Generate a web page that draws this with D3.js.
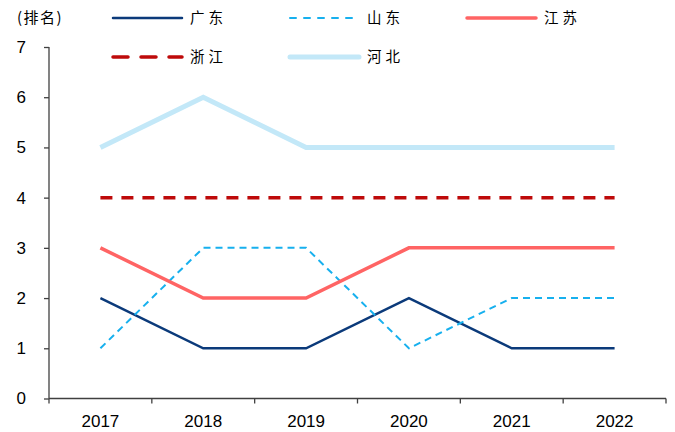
<!DOCTYPE html>
<html>
<head>
<meta charset="utf-8">
<script src="https://cdn.jsdelivr.net/npm/d3@7"></script>
<style>
  html, body { margin: 0; padding: 0; background: #fff; }
  svg { display: block; }
  .tick text { font-family: Arial, "Liberation Sans", sans-serif; }
</style>
</head>
<body>
<svg id="chart" width="675" height="432"></svg>
<script>
// Provincial ranking, 2017–2022
const years = ["2017", "2018", "2019", "2020", "2021", "2022"];
const guangdong = [2, 1, 1, 2, 1, 1];
const shandong  = [1, 3, 3, 1, 2, 2];
const jiangsu   = [3, 2, 2, 3, 3, 3];
const zhejiang  = [4, 4, 4, 4, 4, 4];
const hebei     = [5, 6, 5, 5, 5, 5];
const yTicks = [0, 1, 2, 3, 4, 5, 6, 7];

const series = [
  { name: "广东", values: guangdong, color: "#0B3A7A", width: 2.5, dash: null },
  { name: "山东", values: shandong,  color: "#17B0EE", width: 2,   dash: "7,5" },
  { name: "江苏", values: jiangsu,   color: "#FF6464", width: 3.5, dash: null },
  { name: "浙江", values: zhejiang,  color: "#BE0A0A", width: 3.5, dash: "12,9" },
  { name: "河北", values: hebei,     color: "#C3E8F8", width: 5,   dash: null }
];

const svg = d3.select("#chart");
const plotLeft = 49, plotRight = 666, plotTop = 47, plotBottom = 398.5;

const x = d3.scaleBand().domain(years).range([plotLeft, plotRight]);
const y = d3.scaleLinear().domain([0, 7]).range([plotBottom, plotTop]);

// Y axis
const yAxis = svg.append("g")
  .attr("transform", `translate(${plotLeft},0)`)
  .call(d3.axisLeft(y).tickValues(yTicks).tickSize(5).tickPadding(18).tickFormat(d3.format("d")));
yAxis.select(".domain").attr("stroke", "#404040").attr("stroke-width", 1.3).attr("d", `M0,${plotTop}V${plotBottom}`);
yAxis.selectAll(".tick line").attr("stroke", "#404040").attr("stroke-width", 1.3);
yAxis.selectAll(".tick text").attr("font-size", 17).attr("fill", "#000");

// X axis with ticks at band boundaries
const xAxis = svg.append("g")
  .attr("transform", `translate(0,${plotBottom})`)
  .call(d3.axisBottom(x).tickSize(0).tickPadding(16));
xAxis.select(".domain").attr("stroke", "#404040").attr("stroke-width", 1.3).attr("d", `M${plotLeft},0H${plotRight}`);
xAxis.selectAll(".tick text").attr("font-size", 17).attr("fill", "#000");
const edges = years.map(d => x(d)).concat([x(years[years.length - 1]) + x.bandwidth()]);
xAxis.selectAll(".edge").data(edges).enter().append("line")
  .attr("x1", d => d).attr("x2", d => d).attr("y1", 0).attr("y2", 5)
  .attr("stroke", "#404040").attr("stroke-width", 1.3);

// Lines
const line = d3.line()
  .x((d, i) => x(years[i]) + x.bandwidth() / 2)
  .y(d => y(d));

svg.append("g").selectAll("path").data(series).enter().append("path")
  .attr("d", d => line(d.values))
  .attr("fill", "none")
  .attr("stroke", d => d.color)
  .attr("stroke-width", d => d.width)
  .attr("stroke-dasharray", d => d.dash)
  .attr("stroke-linejoin", "miter");

// Unit label
svg.append("text")
  .attr("x", 17).attr("y", 23)
  .attr("font-family", "'Noto Sans CJK SC', sans-serif")
  .attr("font-size", 15).attr("fill", "#000")
  .attr("letter-spacing", 1.5)
  .text("(排名)");

// Legend
const legendPos = [
  { x: 113, y: 18 }, { x: 290, y: 18 }, { x: 467, y: 18 },
  { x: 113, y: 57 }, { x: 290, y: 57 }
];
const lg = svg.append("g").selectAll("g").data(series).enter().append("g")
  .attr("transform", (d, i) => `translate(${legendPos[i].x},${legendPos[i].y})`);
lg.append("line")
  .attr("x1", 0).attr("x2", 69).attr("y1", 0).attr("y2", 0)
  .attr("stroke", d => d.color)
  .attr("stroke-width", d => d.width)
  .attr("stroke-dasharray", d => d.dash ? (d.name === "浙江" ? "15,13" : "6,8") : null)
  .attr("stroke-linecap", "round");
lg.append("text")
  .attr("x", 77).attr("y", 5)
  .attr("font-family", "'Noto Sans CJK SC', sans-serif")
  .attr("font-size", 14.5).attr("fill", "#000")
  .attr("letter-spacing", 4)
  .text(d => d.name);
</script>
</body>
</html>
